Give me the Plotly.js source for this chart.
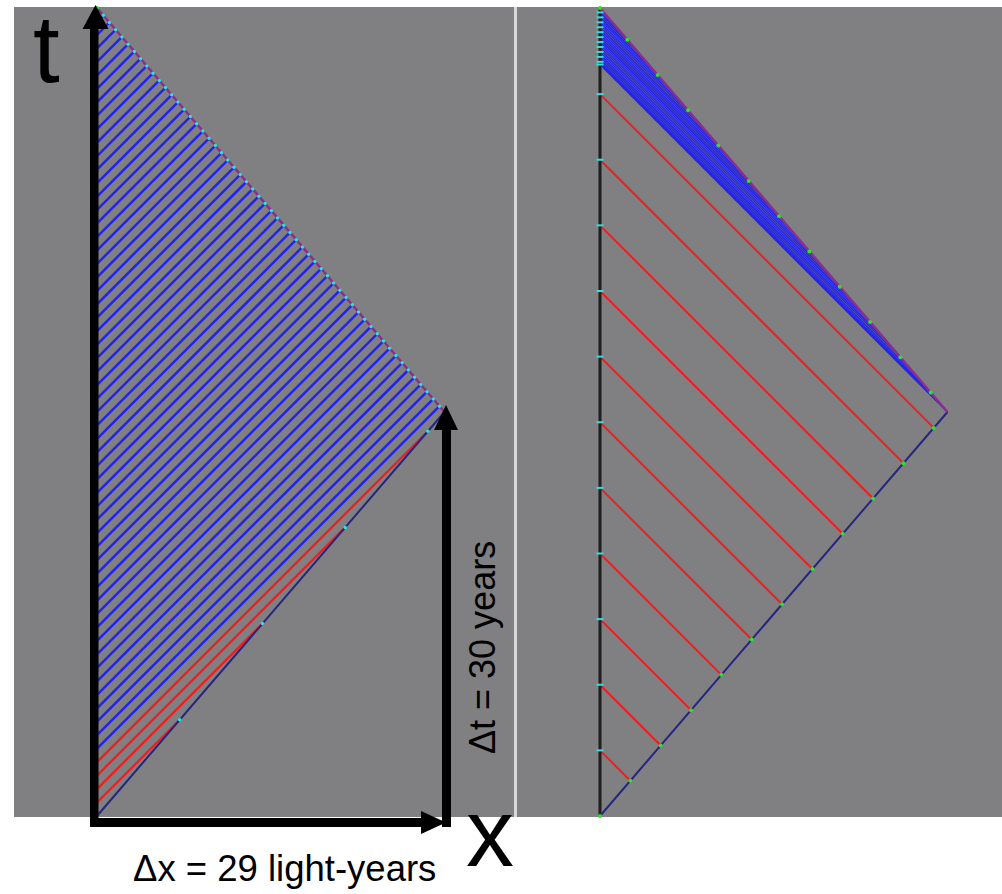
<!DOCTYPE html>
<html>
<head>
<meta charset="utf-8">
<script src="https://cdn.plot.ly/plotly-3.0.1.min.js"></script>
<style>
  html, body { margin: 0; padding: 0; background: #ffffff; }
  #chart { width: 1002px; height: 894px; }
</style>
</head>
<body>
<div id="chart"></div>
<script>
// ---------------- data (years / light-years) ----------------
const turnTime = 30;        // coordinate time of turnaround (years)
const speed = 0.86;         // traveler speed (fraction of c), as drawn
// Left panel: light signals sent from Earth once a year
const leftRedEmit = [1, 2, 3, 4];
const leftBlueEmit = [5, 6, 7, 8, 9, 10, 11, 12, 13, 14, 15, 16, 17, 18, 19, 20,
  21, 22, 23, 24, 25, 26, 27, 28, 29, 30, 31, 32, 33, 34, 35, 36, 37, 38, 39, 40,
  41, 42, 43, 44, 45, 46, 47, 48, 49, 50, 51, 52, 53, 54, 55, 56, 57, 58, 59];
// Right panel: signals sent by the traveler (coordinate times of emission)
const rightOutTicks = [2.62, 5.24, 7.86, 10.48, 13.10, 15.72, 18.34, 20.96, 23.58, 26.20, 28.82];
const rightRetTicks = [31.44, 34.06, 36.68, 39.30, 41.92, 44.54, 47.16, 49.78, 52.40, 55.02, 57.64];
const rightBandEmit = [30.00, 30.72, 31.44, 32.75, 34.06, 35.37, 36.68, 37.99, 39.30, 40.61,
  41.92, 43.23, 44.54, 45.85, 47.16, 48.47, 49.78, 51.09, 52.40, 53.71, 55.02, 56.33,
  57.64, 58.95];
const totalTime = 60;

// ---------------- geometry helpers ----------------
const xTurn = speed * turnTime;
function travelerX(t) { return t <= turnTime ? speed * t : speed * (2 * turnTime - t); }
function recvOutbound(te) { const t = te / (1 - speed); return [speed * t, t]; }
function recvReturn(te) { const t = (2 * speed * turnTime + te) / (1 + speed); return [t - te, t]; }

function segs(list) {
  const xs = [], ys = [];
  list.forEach(s => { xs.push(s[0], s[2], null); ys.push(s[1], s[3], null); });
  return {x: xs, y: ys};
}

// Left panel segments
const leftRed = segs(leftRedEmit.map(te => { const r = recvOutbound(te); return [0, te, r[0], r[1]]; }));
const leftBlue = segs(leftBlueEmit.map(te => { const r = recvReturn(te); return [0, te, r[0], r[1]]; }));
const leftRecv = leftRedEmit.map(recvOutbound).concat(leftBlueEmit.map(recvReturn));

// Right panel segments
const rightRed = segs(rightOutTicks.map(t => { const x = travelerX(t); return [x, t, 0, t + x]; }));
const rightBand = segs(rightBandEmit.map(t => { const x = travelerX(t); return [x, t, 0, t + x]; }));
const rightTicks = rightOutTicks.concat(rightRetTicks);
const earthRecv = rightTicks.concat([turnTime]).map(t => t + travelerX(t));

const GREY = '#807f81', RED = '#f01e1e', BLUE = '#2323ee', NAVY = '#262680',
      PURPLE = '#8a2f8e', CYAN = '#2fe0e0', GREEN = '#2fe02f';

const traces = [
  // ----- left -----
  {x: leftBlue.x, y: leftBlue.y, xaxis: 'x', yaxis: 'y', mode: 'lines', line: {color: BLUE, width: 2.5}, hoverinfo: 'skip'},
  {x: leftRed.x, y: leftRed.y, xaxis: 'x', yaxis: 'y', mode: 'lines', line: {color: RED, width: 2.3}, hoverinfo: 'skip'},
  {x: [0, xTurn], y: [0, turnTime], xaxis: 'x', yaxis: 'y', mode: 'lines', line: {color: NAVY, width: 2}, hoverinfo: 'skip'},
  {x: [xTurn, 0], y: [turnTime, totalTime], xaxis: 'x', yaxis: 'y', mode: 'lines', line: {color: PURPLE, width: 2.5}, hoverinfo: 'skip'},
  {x: leftRecv.map(p => p[0]), y: leftRecv.map(p => p[1]), xaxis: 'x', yaxis: 'y', mode: 'markers',
   marker: {color: CYAN, size: 3.5}, hoverinfo: 'skip'},
  {x: [0], y: [totalTime], xaxis: 'x', yaxis: 'y', mode: 'markers', marker: {color: GREEN, size: 4}, hoverinfo: 'skip'},
  // ----- right -----
  {x: rightBand.x, y: rightBand.y, xaxis: 'x2', yaxis: 'y', mode: 'lines', line: {color: BLUE, width: 1.5}, hoverinfo: 'skip'},
  {x: rightRed.x, y: rightRed.y, xaxis: 'x2', yaxis: 'y', mode: 'lines', line: {color: RED, width: 2}, hoverinfo: 'skip'},
  {x: [0, 0], y: [0, totalTime], xaxis: 'x2', yaxis: 'y', mode: 'lines', line: {color: '#1e1e1e', width: 3}, hoverinfo: 'skip'},
  {x: [0, xTurn], y: [0, turnTime], xaxis: 'x2', yaxis: 'y', mode: 'lines', line: {color: NAVY, width: 2}, hoverinfo: 'skip'},
  {x: [xTurn, 0], y: [turnTime, totalTime], xaxis: 'x2', yaxis: 'y', mode: 'lines', line: {color: PURPLE, width: 2.5}, hoverinfo: 'skip'},
  {x: rightTicks.map(travelerX), y: rightTicks, xaxis: 'x2', yaxis: 'y', mode: 'markers',
   marker: {color: GREEN, size: 4}, hoverinfo: 'skip'},
  {x: earthRecv.map(() => 0), y: earthRecv, xaxis: 'x2', yaxis: 'y', mode: 'markers',
   marker: {color: CYAN, size: 5, symbol: 'line-ew', line: {color: CYAN, width: 2}}, hoverinfo: 'skip'},
  {x: [0, 0], y: [0, totalTime], xaxis: 'x2', yaxis: 'y', mode: 'markers', marker: {color: GREEN, size: 4}, hoverinfo: 'skip'}
];

// ---------------- layout ----------------
const W = 1002, H = 894;
const pxScale = 13.467;           // pixels per year / light-year
const y0px = 816;                 // pixel row of t = 0
const leftX0 = 97, rightX0 = 600; // pixel columns of Earth
function px(x) { return x / W; }
function py(y) { return 1 - y / H; }
function poly(pts) { return 'M ' + pts.map(p => px(p[0]) + ',' + py(p[1])).join(' L ') + ' Z'; }

const shapes = [
  {type: 'rect', xref: 'paper', yref: 'paper', x0: px(14), x1: px(514), y0: py(817), y1: py(7), fillcolor: GREY, line: {width: 0}, layer: 'below'},
  {type: 'rect', xref: 'paper', yref: 'paper', x0: px(517), x1: px(1002), y0: py(817), y1: py(7), fillcolor: GREY, line: {width: 0}, layer: 'below'},
  {type: 'rect', xref: 'paper', yref: 'paper', x0: px(514), x1: px(517), y0: py(817), y1: py(7), fillcolor: '#d8d8d8', line: {width: 0}, layer: 'below'},
  // left time axis arrow
  {type: 'rect', xref: 'paper', yref: 'paper', x0: px(90), x1: px(98.5), y0: py(827), y1: py(27), fillcolor: '#000', line: {width: 0}},
  {type: 'path', xref: 'paper', yref: 'paper', path: poly([[82.5, 29], [108.5, 29], [95.5, 5]]), fillcolor: '#000', line: {width: 0}},
  // bottom x arrow
  {type: 'rect', xref: 'paper', yref: 'paper', x0: px(90), x1: px(424), y0: py(827), y1: py(818), fillcolor: '#000', line: {width: 0}},
  {type: 'path', xref: 'paper', yref: 'paper', path: poly([[421, 811], [421, 834], [446, 822.5]]), fillcolor: '#000', line: {width: 0}},
  // right delta-t arrow
  {type: 'rect', xref: 'paper', yref: 'paper', x0: px(442), x1: px(451), y0: py(827), y1: py(428), fillcolor: '#000', line: {width: 0}},
  {type: 'path', xref: 'paper', yref: 'paper', path: poly([[434, 430], [458, 430], [446, 405]]), fillcolor: '#000', line: {width: 0}}
];

const FONT = 'Liberation Sans, Arial, sans-serif';
const annotations = [
  {xref: 'paper', yref: 'paper', x: px(46.5), y: py(48), text: 't', showarrow: false, xanchor: 'center', yanchor: 'middle', font: {family: FONT, size: 96, color: '#000'}},
  {xref: 'paper', yref: 'paper', x: px(489.5), y: py(832), text: 'x', showarrow: false, xanchor: 'center', yanchor: 'middle', font: {family: FONT, size: 96, color: '#000'}},
  {xref: 'paper', yref: 'paper', x: px(284), y: py(868), text: 'Δx = 29 light-years', showarrow: false, xanchor: 'center', yanchor: 'middle', font: {family: FONT, size: 36.5, color: '#000'}},
  {xref: 'paper', yref: 'paper', x: px(482), y: py(648), text: 'Δt = 30 years', textangle: -90, showarrow: false, xanchor: 'center', yanchor: 'middle', font: {family: FONT, size: 36, color: '#000'}}
];

const layout = {
  width: W, height: H,
  margin: {l: 0, r: 0, t: 0, b: 0, pad: 0},
  paper_bgcolor: '#ffffff', plot_bgcolor: 'rgba(0,0,0,0)',
  showlegend: false,
  xaxis: {domain: [0, 1], range: [-leftX0 / pxScale, (W - leftX0) / pxScale], visible: false, fixedrange: true},
  xaxis2: {domain: [0, 1], range: [-rightX0 / pxScale, (W - rightX0) / pxScale], visible: false, fixedrange: true, overlaying: 'x', anchor: 'y'},
  yaxis: {domain: [0, 1], range: [-(H - y0px) / pxScale, y0px / pxScale], visible: false, fixedrange: true},
  shapes: shapes,
  annotations: annotations
};

Plotly.newPlot('chart', traces, layout, {staticPlot: true, displayModeBar: false});
</script>
</body>
</html>
